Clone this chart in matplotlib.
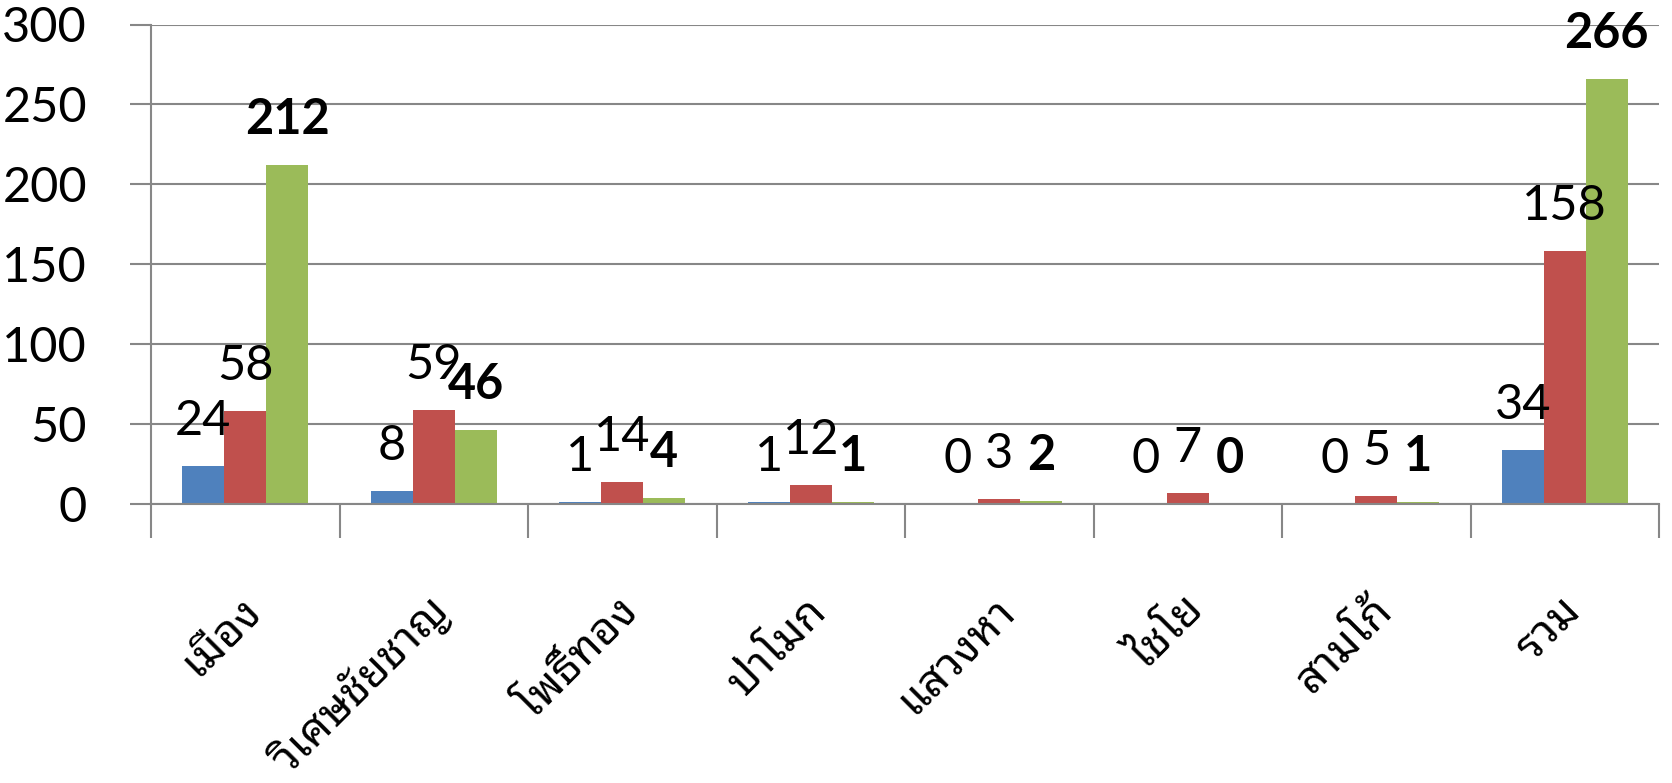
import matplotlib
matplotlib.use("Agg")
import matplotlib.pyplot as plt
from matplotlib import font_manager
from matplotlib.ft2font import FT2Font
import numpy as np

categories = ["เมือง", "วิเศษชัยชาญ", "โพธิ์ทอง", "ป่าโมก", "แสวงหา", "ไชโย", "สามโก้", "รวม"]
series_blue = [24, 8, 1, 1, 0, 0, 0, 34]
series_red = [58, 59, 14, 12, 3, 7, 5, 158]
series_green = [212, 46, 4, 1, 2, 0, 1, 266]
yticks = [0, 50, 100, 150, 200, 250, 300]

# find a font covering Thai
def find_thai_font():
    prefs = ["Noto Sans Thai Looped", "Noto Sans Thai", "Noto Sans Thai UI", "Loma", "Garuda",
             "Waree", "Norasi", "Kinnari", "Tlwg Typo", "Sawasdee", "Umpush", "Purisa"]
    found = {}
    for f in font_manager.fontManager.ttflist:
        try:
            cm = FT2Font(f.fname).get_charmap()
            if 0x0E40 in cm and 0x0E21 in cm:
                found.setdefault(f.name, f.fname)
        except Exception:
            pass
    for p in prefs:
        if p in found:
            return p
    if found:
        return sorted(found)[0]
    return None

thai_font = find_thai_font()
num_font = "Lato"
label_family = [thai_font, "DejaVu Sans"] if thai_font else ["DejaVu Sans"]

DPI = 100
fig = plt.figure(figsize=(16.72, 7.83), dpi=DPI)
ax = fig.add_axes([151/1672, 1 - 504/783, (1659 - 151)/1672, (504 - 24.5)/783])

x = np.arange(len(categories))
w = 0.223
colors = ["#4F81BD", "#C0504D", "#9BBB59"]
series = [series_blue, series_red, series_green]
offsets = [-w, 0, w]
for s, c, o, bold in zip(series, colors, offsets, [False, False, True]):
    ax.bar(x + o, s, width=w, color=c, zorder=3, linewidth=0)
    for xi, v in zip(x + o, s):
        ax.annotate(str(v), (xi, v), xytext=(0, 31 * 72 / DPI), textcoords="offset points",
                    ha="center", va="baseline", fontsize=35, family=num_font,
                    fontweight="bold" if bold else "normal", color="black", zorder=5)

ax.set_xlim(-0.5, len(categories) - 0.5)
ax.set_ylim(0, 300)
ax.set_yticks(yticks)
ax.set_yticklabels([str(t) for t in yticks], fontsize=35, family=num_font)
ax.grid(axis="y", color="#878787", linewidth=1.5, zorder=0)
ax.tick_params(axis="y", length=21 * 72 / DPI, width=1.5, color="#878787", pad=43 * 72 / DPI)

# category boundary ticks
ax.set_xticks(np.arange(len(categories) + 1) - 0.5)
ax.set_xticklabels([])
ax.tick_params(axis="x", length=34 * 72 / DPI, width=1.5, color="#878787")

for sp in ["top", "right"]:
    ax.spines[sp].set_visible(False)
for sp in ["left", "bottom"]:
    ax.spines[sp].set_color("#878787")
    ax.spines[sp].set_linewidth(1.5)
    ax.spines[sp].set_zorder(4)

for xi, lab in zip(x, categories):
    ax.annotate(lab, (xi, 0), xytext=(10 * 72 / DPI, -101 * 72 / DPI), textcoords="offset points",
                ha="right", va="center", rotation=45, rotation_mode="anchor",
                fontsize=32, family=label_family, color="black",
                annotation_clip=False)

fig.savefig("out.png", dpi=DPI, facecolor="white")
